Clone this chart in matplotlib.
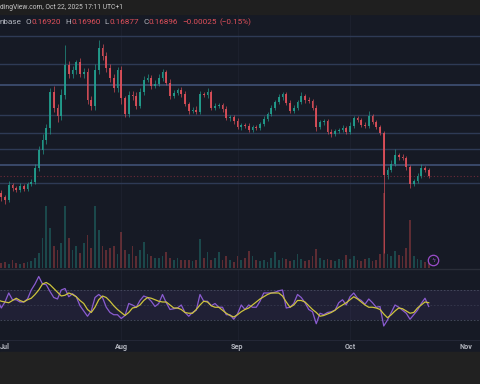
import numpy as np
import pandas as pd
import matplotlib
matplotlib.use("Agg")
import matplotlib.pyplot as plt
import matplotlib.dates as mdates
from matplotlib.patches import Rectangle
from matplotlib.lines import Line2D

# daily candles, Jun 29 .. Oct 22 2025
dates = pd.date_range("2025-06-29", periods=116, freq="D")
first_open = 0.1610

closes = [
    0.1605, 0.1585, 0.1570, 0.1645, 0.1630, 0.1620, 0.1640, 0.1625, 0.1650, 0.1660,
    0.1730, 0.1820, 0.1870, 0.1930, 0.2110, 0.2030, 0.1990, 0.2095, 0.2245, 0.2200,
    0.2220, 0.2260, 0.2200, 0.2210, 0.2070, 0.2040, 0.2220, 0.2330, 0.2290, 0.2230,
    0.2180, 0.2130, 0.2220, 0.2080, 0.2000, 0.2095, 0.2090, 0.2040, 0.2110, 0.2170,
    0.2180, 0.2140, 0.2150, 0.2180, 0.2210, 0.2155, 0.2090, 0.2105, 0.2120, 0.2100,
    0.2050, 0.2015, 0.2020, 0.2010, 0.2100, 0.2095, 0.2110, 0.2030, 0.2040, 0.2045,
    0.2025, 0.1980, 0.1985, 0.1965, 0.1935, 0.1945, 0.1940, 0.1920, 0.1935, 0.1930,
    0.1950, 0.1975, 0.2000, 0.2030, 0.2060, 0.2085, 0.2100, 0.2055, 0.2015, 0.2030,
    0.2060, 0.2090, 0.2070, 0.2065, 0.2030, 0.1935, 0.1960, 0.1965, 0.1910, 0.1900,
    0.1915, 0.1920, 0.1930, 0.1910, 0.1940, 0.1980, 0.1970, 0.1945, 0.1940, 0.1990,
    0.1960, 0.1935, 0.1905, 0.1695, 0.1720, 0.1750, 0.1795, 0.1785, 0.1780, 0.1735,
    0.1650, 0.1665, 0.1690, 0.1730, 0.1720, 0.1690,
]

# wick lengths above / below the body, in thousandths
wick_hi = [
    1, 1.5, 1, 2, 1, 1, 1.5, 1, 1, 1.5,
    2, 2, 3, 2, 2, 3, 2, 3, 10, 2,
    2, 1, 2, 2, 2, 2, 3, 4, 2, 2,
    2, 2, 1.5, 2, 1, 2, 2, 2, 2, 2,
    2, 1.5, 2, 2, 1.5, 1, 2, 1.5, 1, 1.5,
    1.5, 1, 1.5, 2, 1.5, 1, 2, 1, 1.5, 1,
    1, 1.5, 1, 1, 1.5, 1, 1, 1.5, 1, 1,
    1, 1.5, 1, 1.5, 1, 1.5, 1, 1, 1.5, 1.5,
    1, 2, 1, 1.5, 1, 1.5, 1, 1, 1, 1.5,
    1, 1, 1.5, 1, 2, 1, 1, 1, 1.5, 2.5,
    1, 1, 1, 1, 1.5, 2, 3, 1, 1.5, 1,
    1, 1, 1.5, 2, 1, 1,
]
wick_lo = [
    1, 2, 2, 1, 1.5, 1, 1, 1, 1, 1,
    1, 1.5, 2, 2, 3, 2, 3, 2, 2, 2,
    2, 2, 1.5, 2, 2, 2, 2, 2, 2, 2,
    2, 2, 2, 3, 1.5, 1.5, 2, 1.5, 1, 1.5,
    1, 1.5, 1, 1, 1.5, 1, 1.5, 1, 1, 1.5,
    1, 1.5, 1, 1, 1, 1, 1.5, 1, 1, 1,
    1.5, 1, 1.5, 1.5, 1, 1.5, 1, 1, 1, 1,
    1, 1, 1, 1, 1, 1, 1.5, 1, 1, 1,
    1, 1, 1.5, 1, 1, 2, 1, 1.5, 1, 1.5,
    1, 1, 1, 1, 1, 1, 1, 1, 1, 1,
    1, 1, 1, 39, 2, 1, 1, 1.5, 1, 1.5,
    2, 1, 1, 1, 1, 1,
]

# volume, millions
volume = [
    4, 5, 6, 4, 8, 5, 4, 5, 6, 7,
    10, 15, 30, 62, 40, 22, 18, 25, 62, 30,
    18, 22, 15, 25, 33, 20, 62, 38, 22, 18,
    20, 22, 14, 36, 18, 14, 22, 12, 18, 26,
    14, 12, 10, 10, 12, 16, 10, 8, 10, 8,
    8, 8, 7, 8, 29, 10, 16, 8, 10, 16,
    8, 12, 8, 6, 12, 8, 10, 17, 12, 8,
    7, 8, 6, 10, 16, 8, 10, 9, 7, 8,
    14, 9, 7, 8, 12, 19, 10, 8, 9, 8,
    7, 9, 8, 13, 9, 12, 8, 7, 9, 10,
    7, 8, 14, 75, 14, 12, 17, 13, 12, 20,
    48, 12, 9, 8, 6, 5,
]

rsi = [
    57, 46, 54, 66, 57, 57, 54, 54, 58, 70,
    78, 88, 78, 77, 68, 60, 58, 70, 72, 61,
    65, 61, 49, 42, 35, 42, 60, 64, 60, 47,
    40, 37, 37, 32, 36, 52, 50, 47, 56, 62,
    60, 55, 48, 52, 64, 53, 44, 45, 46, 50,
    40, 35, 40, 43, 64, 55, 55, 49, 52, 47,
    47, 37, 37, 31, 38, 50, 44, 50, 47, 47,
    55, 66, 66, 66, 67, 69, 70, 46, 47, 52,
    64, 60, 53, 44, 41, 25, 39, 37, 40, 41,
    43, 53, 57, 50, 61, 66, 59, 56, 51, 58,
    53, 47, 48, 22, 30, 40, 50, 47, 43, 39,
    31, 37, 43, 52, 59, 48,
]
rsi_ma = [
    57, 55, 54, 53, 56, 59, 56, 54, 57, 59,
    64, 70, 78, 80, 77, 72, 67, 62, 63, 66,
    64, 61, 56, 52, 44, 40, 47, 57, 62, 60,
    55, 49, 44, 40, 36, 40, 46, 47, 50, 56,
    60, 59, 57, 55, 54, 54, 50, 46, 46, 44,
    40, 39, 39, 44, 50, 55, 54, 49, 47, 47,
    43, 39, 36, 34, 37, 41, 44, 46, 50, 54,
    58, 61, 64, 66, 66, 66, 62, 54, 47, 50,
    56, 56, 54, 49, 44, 40, 35, 36, 38, 40,
    43, 47, 50, 53, 57, 61, 58, 54, 50, 47,
    47, 46, 44, 38, 33, 37, 42, 46, 45, 42,
    39, 40, 46, 50, 54, 53,
]

levels = [0.2392, 0.2252, 0.2145, 0.1997, 0.1907, 0.1825, 0.1745, 0.1654]
bright_levels = [0.2145, 0.1745]
last_price = 0.1690

months = ["2025-07-01", "2025-08-01", "2025-09-01", "2025-10-01", "2025-11-01"]
month_labels = ["Jul", "Aug", "Sep", "Oct", "Nov"]

BG = "#161a25"
BAR = "#1f1f1f"
UP = "#22a08f"
DOWN = "#e0505a"
TXT = "#b2b5be"

x = mdates.date2num(dates)
c = np.array(closes)
o = np.concatenate([[first_open], c[:-1]])
hi = np.maximum(o, c) + np.array(wick_hi) / 1000
lo = np.minimum(o, c) - np.array(wick_lo) / 1000
cols = np.where(c >= o, UP, DOWN)

x0 = mdates.date2num(pd.Timestamp("2025-07-01")) - 5 / 3.75
xlim = (x0, x0 + 480 / 3.75)
mx = mdates.date2num(pd.to_datetime(months))

fig = plt.figure(figsize=(4.8, 3.84), dpi=100, facecolor=BG)
fig.patches.append(Rectangle((0, 1 - 14 / 384), 1, 14 / 384, transform=fig.transFigure, color=BAR, zorder=0))
fig.patches.append(Rectangle((0, 0), 1, 32 / 384, transform=fig.transFigure, color="#212121", zorder=0))

rect = [0, 1 - 268 / 384, 1, 254 / 384]
ax_vol = fig.add_axes(rect, facecolor=BG)
ax = fig.add_axes(rect, facecolor="none")
ax_rsi = fig.add_axes([0, 1 - 340 / 384, 1, 71 / 384], facecolor=BG)

for a in (ax_vol, ax, ax_rsi):
    a.set_xlim(*xlim)
    for s in a.spines.values():
        s.set_visible(False)
    a.set_yticks([])
    a.tick_params(length=0)
ax.set_xticks([])
ax_vol.set_xticks([])

# faint month grid
for m in mx[1:4]:
    ax_vol.axvline(m, color="#1c202d", lw=0.8, zorder=0)
    ax_rsi.axvline(m, color="#1c202d", lw=0.8, zorder=0)

# volume
ax_vol.set_ylim(0, 254)
vcols = np.where(c >= o, "#26a69a", "#ef5350")
ax_vol.bar(x, volume, width=0.5, color=vcols, alpha=0.33, linewidth=0)

# price
ax.set_ylim(0.123, 0.250)
for lv in levels:
    if lv in bright_levels:
        ax.axhline(lv, color="#3f5175", lw=1.2, zorder=1)
    else:
        ax.axhline(lv, color="#2e3a55", lw=1.0, zorder=1)
ax.axhline(last_price, color="#6e2a38", lw=0.8, ls=(0, (1, 2)), zorder=1)
ax.vlines(x, lo, hi, colors=cols, lw=0.5, alpha=0.9, zorder=2)
ax.bar(x, np.maximum(np.abs(c - o), 0.0003), bottom=np.minimum(o, c), width=0.42,
       color=cols, alpha=0.9, linewidth=0, zorder=3)

# rsi
ax_rsi.set_ylim(3.3, 98)
ax_rsi.fill_between(xlim, 30, 70, color="#7e57c2", alpha=0.1, lw=0)
for lv, al in ((70, 0.9), (50, 0.5), (30, 0.9)):
    ax_rsi.axhline(lv, color="#4d5266", lw=0.6, ls=(0, (2, 2)), alpha=al)
ax_rsi.plot(x, rsi, color="#8a5cd0", lw=0.9)
ax_rsi.plot(x, rsi_ma, color="#cdc43c", lw=0.9)
ax_rsi.set_xticks(mx)
ax_rsi.set_xticklabels(month_labels)
ax_rsi.tick_params(axis="x", length=0, pad=2.5, labelsize=5.2, labelcolor=TXT)
for t in ax_rsi.get_xticklabels():
    t.set_fontweight("bold")
    t.set_family("Roboto")

# pane separators
fig.add_artist(Line2D([0, 1], [1 - 268.5 / 384] * 2, transform=fig.transFigure, color="#2a2e39", lw=1))
fig.add_artist(Line2D([0, 1], [1 - 339.5 / 384] * 2, transform=fig.transFigure, color="#232736", lw=0.8))

# header texts
fig.text(0, 1 - 7.5 / 384, "dingView.com, Oct 22, 2025 17:11 UTC+1", color="#c9c9c9",
         fontsize=4.9, family="Roboto", va="center", ha="left")

# OHLC legend, pieces laid out one after another
legend = [
    ("nbase", TXT, 4), ("O", TXT, 0.4), ("0.16920", DOWN, 4), ("H", TXT, 0.4),
    ("0.16960", DOWN, 4), ("L", TXT, 0.4), ("0.16877", DOWN, 4), ("C", TXT, 0.4),
    ("0.16896", DOWN, 4), ("\u22120.00025", DOWN, 3), ("(\u22120.15%)", DOWN, 0),
]
renderer = fig.canvas.get_renderer()
px = 0.0
for s, col, gap in legend:
    t = fig.text(px / 480, 1 - 22.5 / 384, s, color=col, fontsize=5.9, family="Roboto",
                 va="center", ha="left")
    px += t.get_window_extent(renderer).width + gap

# small alert icon
fig.add_artist(Line2D([433 / 480], [1 - 260 / 384], transform=fig.transFigure, marker="o",
                      ms=7.5, mfc=BG, mec="#9b4dca", mew=0.9, ls="none"))
fig.text(433 / 480, 1 - 260 / 384, "\u03df", color="#9b4dca", fontsize=4.5,
         ha="center", va="center")

fig.savefig("out.png", dpi=100, facecolor=fig.get_facecolor())
